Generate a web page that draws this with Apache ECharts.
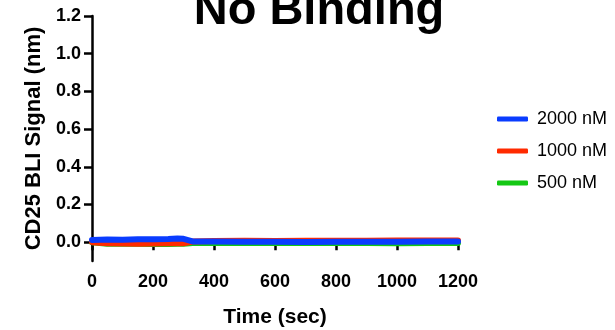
<!DOCTYPE html>
<html>
<head>
<meta charset="utf-8">
<script src="https://cdn.jsdelivr.net/npm/echarts@6/dist/echarts.min.js"></script>
<style>
  html, body { margin: 0; padding: 0; background: #fff; }
  #chart { width: 615px; height: 330px; }
</style>
</head>
<body>
<div id="chart"></div>
<script>
// Sensorgram time points (sec)
const timeSec = [0, 50, 100, 150, 200, 250, 280, 300, 330, 400, 500, 600, 700, 800, 900, 1000, 1100, 1200];

// BLI response (nm) for each analyte concentration
const signal2000 = [0.012, 0.014, 0.013, 0.015, 0.016, 0.017, 0.019, 0.018, 0.004, 0.003, 0.002, 0.002, 0.001, 0.002, 0.002, 0.002, 0.003, 0.003];
const signal1000 = [0.000, -0.006, -0.007, -0.008, -0.007, -0.006, -0.005, -0.006, 0.003, 0.006, 0.007, 0.006, 0.007, 0.008, 0.008, 0.009, 0.009, 0.009];
const signal500  = [0.000, -0.008, -0.009, -0.009, -0.010, -0.010, -0.009, -0.008, -0.005, -0.004, -0.004, -0.005, -0.005, -0.004, -0.005, -0.006, -0.005, -0.004];

const seriesNames = ['2000 nM', '1000 nM', '500 nM'];
const yTicks = [0, 0.2, 0.4, 0.6, 0.8, 1.0, 1.2];
const xTicks = [0, 200, 400, 600, 800, 1000, 1200];

const FONT = '"Liberation Sans", Arial, Helvetica, sans-serif';
const colors = { '2000 nM': '#0a3cff', '1000 nM': '#ff2a00', '500 nM': '#14c814' };

function pairs(values) {
  return timeSec.map((t, i) => [t, values[i]]);
}

function trace(name, values) {
  return {
    name: name,
    type: 'line',
    data: pairs(values),
    showSymbol: false,
    symbol: 'none',
    smooth: false,
    animation: false,
    lineStyle: { width: 6, color: colors[name], cap: 'round', join: 'round' },
    itemStyle: { color: colors[name] }
  };
}

const chart = echarts.init(document.getElementById('chart'), null, { renderer: 'canvas' });

chart.setOption({
  animation: false,
  backgroundColor: '#ffffff',
  title: {
    text: 'No Binding',
    left: 314,
    textAlign: 'center',
    top: -17,
    textStyle: { fontFamily: FONT, fontSize: 47, fontWeight: 'bold', color: '#000' }
  },
  legend: {
    orient: 'vertical',
    left: 492,
    top: 105,
    itemWidth: 31,
    itemHeight: 5,
    itemGap: 14,
    icon: 'roundRect',
    data: seriesNames,
    textStyle: { fontFamily: FONT, fontSize: 18, color: '#000', padding: [0, 0, 0, 4] }
  },
  grid: { left: 92, right: 157, top: 16, bottom: 69, containLabel: false, outerBoundsMode: 'none' },
  xAxis: {
    type: 'value',
    min: 0,
    max: 1200,
    interval: 200,
    name: 'Time (sec)',
    nameLocation: 'middle',
    nameGap: 46,
    nameTextStyle: { fontFamily: FONT, fontSize: 21, fontWeight: 'bold', color: '#000' },
    axisLine: { show: true, lineStyle: { color: '#000', width: 2.5 } },
    axisTick: { show: true, length: 8, lineStyle: { color: '#000', width: 2.5 }, customValues: xTicks },
    axisLabel: {
      fontFamily: FONT, fontSize: 18, fontWeight: 'bold', color: '#000', margin: 12,
      customValues: xTicks,
      formatter: v => String(v)
    },
    splitLine: { show: false }
  },
  yAxis: {
    type: 'value',
    min: -0.1,
    max: 1.2,
    name: 'CD25 BLI Signal (nm)',
    nameLocation: 'middle',
    nameGap: 47,
    nameTextStyle: { fontFamily: FONT, fontSize: 22, fontWeight: 'bold', color: '#000' },
    axisLine: { show: true, lineStyle: { color: '#000', width: 2.5 } },
    axisTick: { show: true, length: 8, lineStyle: { color: '#000', width: 2.5 }, customValues: yTicks },
    axisLabel: {
      fontFamily: FONT, fontSize: 18, fontWeight: 'bold', color: '#000', margin: 11,
      customValues: yTicks,
      formatter: v => v.toFixed(1)
    },
    splitLine: { show: false }
  },
  series: [
    trace('500 nM', signal500),
    trace('1000 nM', signal1000),
    trace('2000 nM', signal2000)
  ]
});
</script>
</body>
</html>
